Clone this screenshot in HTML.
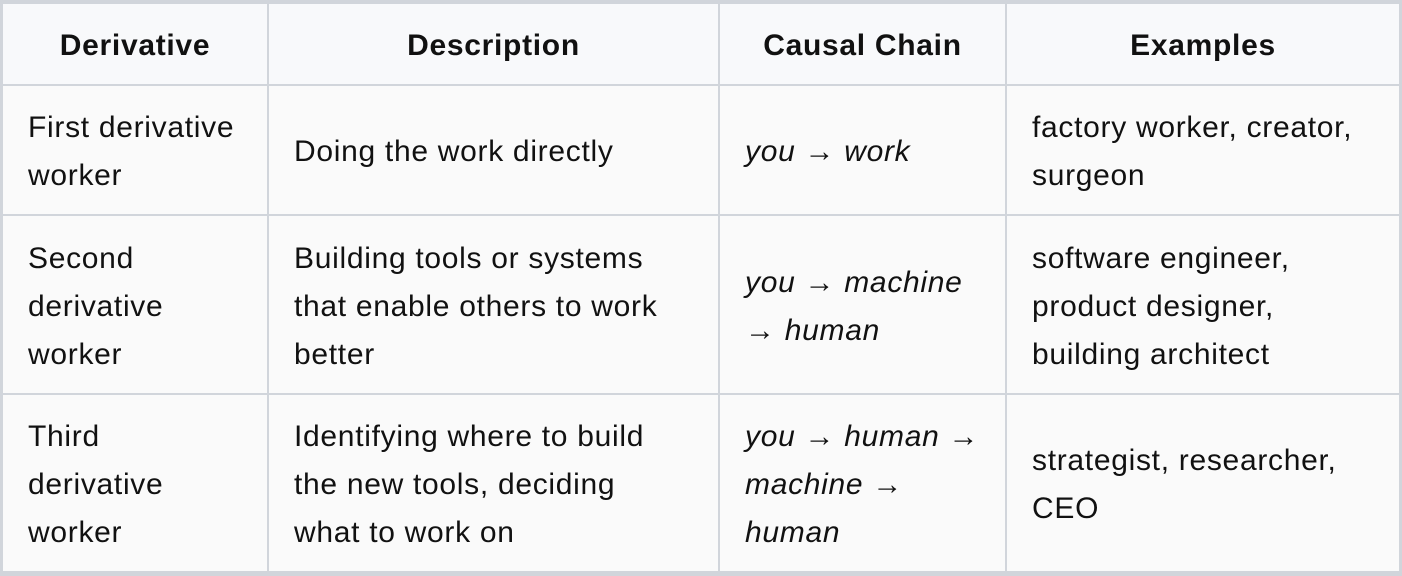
<!DOCTYPE html>
<html><head><style>
html,body{margin:0;padding:0;width:1402px;height:576px;background:#d1d5db;overflow:hidden}
.c{position:absolute;box-sizing:border-box;padding:4px 25px 0;display:flex;flex-direction:column;justify-content:center;font-family:"Liberation Sans",sans-serif;font-size:30px;letter-spacing:0.7px;line-height:48px;color:#111;background:#fafafa;white-space:nowrap}
.h{background:#f8f9fb;font-weight:bold;align-items:center;text-align:center;letter-spacing:0.7px;padding-top:3px}
i{font-style:italic}
</style></head><body>
<div class="c h" style="left:3px;top:4px;width:264px;height:80px">Derivative</div>
<div class="c h" style="left:269px;top:4px;width:449px;height:80px">Description</div>
<div class="c h" style="left:720px;top:4px;width:285px;height:80px">Causal Chain</div>
<div class="c h" style="left:1007px;top:4px;width:392px;height:80px">Examples</div>

<div class="c" style="left:3px;top:86px;width:264px;height:128px"><div>First derivative<br>worker</div></div>
<div class="c" style="left:269px;top:86px;width:449px;height:128px"><div>Doing the work directly</div></div>
<div class="c" style="left:720px;top:86px;width:285px;height:128px"><div><i>you → work</i></div></div>
<div class="c" style="left:1007px;top:86px;width:392px;height:128px"><div>factory worker, creator,<br>surgeon</div></div>

<div class="c" style="left:3px;top:216px;width:264px;height:177px"><div>Second<br>derivative<br>worker</div></div>
<div class="c" style="left:269px;top:216px;width:449px;height:177px"><div>Building tools or systems<br>that enable others to work<br>better</div></div>
<div class="c" style="left:720px;top:216px;width:285px;height:177px"><div><i>you → machine<br>→ human</i></div></div>
<div class="c" style="left:1007px;top:216px;width:392px;height:177px"><div>software engineer,<br>product designer,<br>building architect</div></div>

<div class="c" style="left:3px;top:395px;width:264px;height:176px"><div>Third<br>derivative<br>worker</div></div>
<div class="c" style="left:269px;top:395px;width:449px;height:176px"><div>Identifying where to build<br>the new tools, deciding<br>what to work on</div></div>
<div class="c" style="left:720px;top:395px;width:285px;height:176px"><div><i>you → human →<br>machine →<br>human</i></div></div>
<div class="c" style="left:1007px;top:395px;width:392px;height:176px"><div>strategist, researcher,<br>CEO</div></div>
</body></html>
